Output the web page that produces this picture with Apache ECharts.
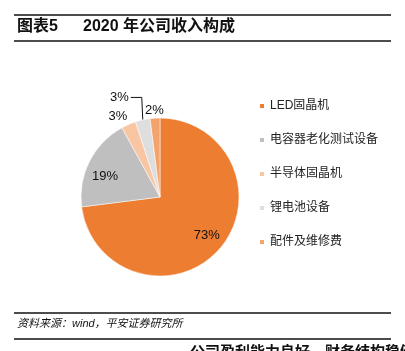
<!DOCTYPE html>
<html>
<head>
<meta charset="utf-8">
<script src="https://cdn.jsdelivr.net/npm/echarts@6/dist/echarts.min.js"></script>
<style>
  html, body { margin: 0; padding: 0; background: #fff; }
  #main { width: 405px; height: 351px; }
</style>
</head>
<body>
<div id="main"></div>
<script>
// 2020 年公司收入构成（%）
const categories = ['LED固晶机', '电容器老化测试设备', '半导体固晶机', '锂电池设备', '配件及维修费']
const shares = [73, 19, 3, 3, 2]
const colors = ['#ED7D31', '#BFBFBF', '#F8C6A3', '#DEDEDE', '#F3A36C']

const font = 'Liberation Sans, Noto Sans CJK SC, sans-serif'

// 小扇区的标签放在外面，大扇区放里面
const labelCfg = [
  { position: 'inside' },
  { position: 'inside' },
  { position: 'outside', line: false, len: 6, len2: 0 },
  { position: 'outside', line: true, len: 22, len2: 10 },
  { position: 'outside', line: false, len: 4, len2: 0 }
]
// 标签微调
const labelShift = [[15, 10], [-17, -1], [6, -3], [0, 0], [14, -4]]

let chart = echarts.init(document.getElementById('main'))

let pieData = categories.map((name, i) => ({
  name: name,
  value: shares[i],
  itemStyle: { color: colors[i] },
  label: { position: labelCfg[i].position },
  labelLine: {
    show: !!labelCfg[i].line,
    length: labelCfg[i].len || 0,
    length2: labelCfg[i].len2 || 0
  }
}))

let option = {
  animation: false,
  textStyle: { fontFamily: font },
  legend: {
    orient: 'vertical',
    left: 258,
    top: 100,
    padding: 0,
    itemWidth: 6,
    itemHeight: 6,
    itemGap: 22,
    icon: 'rect',
    textStyle: { fontSize: 12, color: '#222', fontFamily: font },
    data: categories
  },
  graphic: [
    { type: 'line', shape: { x1: 14, y1: 15, x2: 391, y2: 15 }, style: { stroke: '#111', lineWidth: 1.3 } },
    { type: 'text', left: 17, top: 19, style: { text: '图表5', font: 'bold 16px ' + font, fill: '#111' } },
    { type: 'text', left: 83, top: 19, style: { text: '2020 年公司收入构成', font: 'bold 16px ' + font, fill: '#111' } },
    { type: 'line', shape: { x1: 14, y1: 41, x2: 391, y2: 41 }, style: { stroke: '#111', lineWidth: 1.3 } },
    { type: 'line', shape: { x1: 14, y1: 313, x2: 391, y2: 313 }, style: { stroke: '#111', lineWidth: 1.3 } },
    { type: 'text', left: 17, top: 318, style: { text: '资料来源：wind，平安证券研究所', font: 'italic 11px ' + font, fill: '#111' } },
    { type: 'line', shape: { x1: 14, y1: 339, x2: 391, y2: 339 }, style: { stroke: '#111', lineWidth: 1.3 } },
    { type: 'text', left: 190, top: 345, style: { text: '公司盈利能力良好，财务结构稳健', font: 'bold 15px ' + font, fill: '#111' } }
  ],
  series: [{
    type: 'pie',
    center: [160, 197],
    radius: [0, 79],
    startAngle: 90,
    clockwise: true,
    avoidLabelOverlap: false,
    itemStyle: { borderColor: '#fff', borderWidth: 0.5 },
    label: {
      formatter: '{c}%',
      fontSize: 13,
      color: '#111',
      fontFamily: font
    },
    labelLine: { smooth: false, lineStyle: { color: '#111', width: 1 } },
    labelLayout: function (params) {
      let i = params.dataIndex
      let pts = params.labelLinePoints
      if (labelCfg[i].line && pts) {
        // 引线先竖直向上，再水平向左
        let p0 = pts[0]
        let p1 = [p0[0] - 1, pts[1][1] - 1]
        let p2 = [p1[0] - 11, p1[1]]
        return {
          x: p2[0] - 2,
          y: p2[1],
          align: 'right',
          verticalAlign: 'middle',
          labelLinePoints: [p0, p1, p2]
        }
      }
      let s = labelShift[i]
      return { dx: s[0], dy: s[1] }
    },
    data: pieData
  }]
}

chart.setOption(option)
window.addEventListener('resize', function () {
  chart.resize()
})
</script>
</body>
</html>
